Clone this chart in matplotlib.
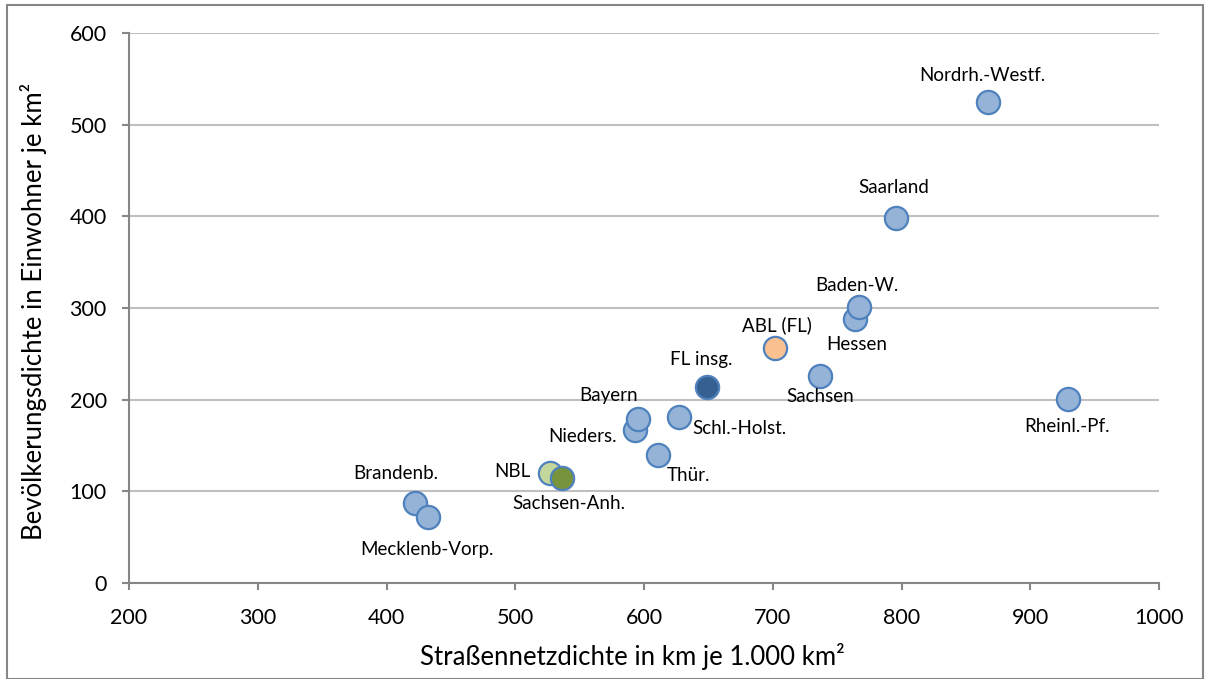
import matplotlib
matplotlib.use("Agg")
import matplotlib.pyplot as plt
from matplotlib.patches import Rectangle

plt.rcParams['font.family'] = ['Lato', 'DejaVu Sans']

# Data
labels = ["Nordrh.-Westf.", "Saarland", "Baden-W.", "Hessen", "Rheinl.-Pf.",
          "Sachsen", "Schl.-Holst.", "Bayern", "Nieders.", "Thür.",
          "Brandenb.", "Mecklenb-Vorp.", "Sachsen-Anh.",
          "ABL (FL)", "FL insg.", "NBL"]
road_density = [867, 796, 767, 764, 929, 737, 627, 595, 593, 611,
                422, 432, 536, 702, 649, 527]
pop_density = [525, 398, 301, 288, 201, 226, 181, 179, 167, 140,
               87, 72, 115, 256, 214, 120]

# Styles
blue_fill, blue_edge = "#95b3d7", "#4f81bd"
special_fill = {"ABL (FL)": "#fac090", "FL insg.": "#376092",
                "NBL": "#c3d69b", "Sachsen-Anh.": "#77933c"}
# label placement in pixels (dx, dy, ha) relative to point
offsets = {
    "Nordrh.-Westf.": (-5, 26, "center"), "Saarland": (-3, 31, "center"),
    "Baden-W.": (-2, 22, "center"), "Hessen": (2, -26, "center"),
    "Rheinl.-Pf.": (-1, -28, "center"), "Sachsen": (0, -21, "center"),
    "Schl.-Holst.": (14, -11, "left"), "Bayern": (-29, 23, "center"),
    "Nieders.": (-18, -7, "right"), "Thür.": (9, -21, "left"),
    "Brandenb.": (-19, 30, "center"), "Mecklenb-Vorp.": (-1, -33, "center"),
    "Sachsen-Anh.": (7, -26, "center"), "ABL (FL)": (2, 23, "center"),
    "FL insg.": (-6, 27, "center"), "NBL": (-20, 1, "right"),
}
order = ["Nordrh.-Westf.", "Saarland", "Hessen", "Baden-W.", "Rheinl.-Pf.",
         "Sachsen", "Schl.-Holst.", "Nieders.", "Bayern", "Thür.",
         "Brandenb.", "Mecklenb-Vorp.", "NBL", "Sachsen-Anh.",
         "ABL (FL)", "FL insg."]

W, H = 1206, 679
fig = plt.figure(figsize=(W/100, H/100), dpi=100)
ax = fig.add_axes([129/W, 1-583/H, 1030/W, 550/H])

for name in order:
    i = labels.index(name)
    fc = special_fill.get(name, blue_fill)
    ax.scatter(road_density[i], pop_density[i], s=280, facecolor=fc,
               edgecolor=blue_edge, linewidth=1.6, zorder=3)
    dx, dy, ha = offsets[name]
    ax.annotate(name, (road_density[i], pop_density[i]),
                xytext=(dx*0.72, dy*0.72), textcoords="offset points",
                ha=ha, va="center", fontsize=13.5, color="black",
                zorder=4)

ax.set_xlim(200, 1000)
ax.set_ylim(0, 600)
ax.set_xticks(range(200, 1001, 100))
ax.set_yticks(range(0, 601, 100))
ax.grid(axis="y", color="#bfbfbf", linewidth=1.5, zorder=0)
ax.set_axisbelow(True)
for s in ["top", "right"]:
    ax.spines[s].set_visible(False)
for s in ["left", "bottom"]:
    ax.spines[s].set_color("#868686")
    ax.spines[s].set_linewidth(1.5)
ax.tick_params(axis="both", colors="#868686", length=5, width=1.5,
               labelsize=15.5, labelcolor="black")
ax.tick_params(axis="x", pad=13)
ax.tick_params(axis="y", pad=11)

fig.text(632/W, 1-656/H, "Straßennetzdichte in km je 1.000 km²",
         fontsize=18.5, ha="center", va="center")
fig.text(34/W, 1-311/H, "Bevölkerungsdichte in Einwohner je km²",
         fontsize=18.5, ha="center", va="center", rotation=90)

fig.patches.append(Rectangle((7/W, 0), 1196/W, 1-5/H,
                             transform=fig.transFigure, fill=False,
                             edgecolor="#868686", linewidth=1.5))

fig.savefig("out.png", dpi=100)
